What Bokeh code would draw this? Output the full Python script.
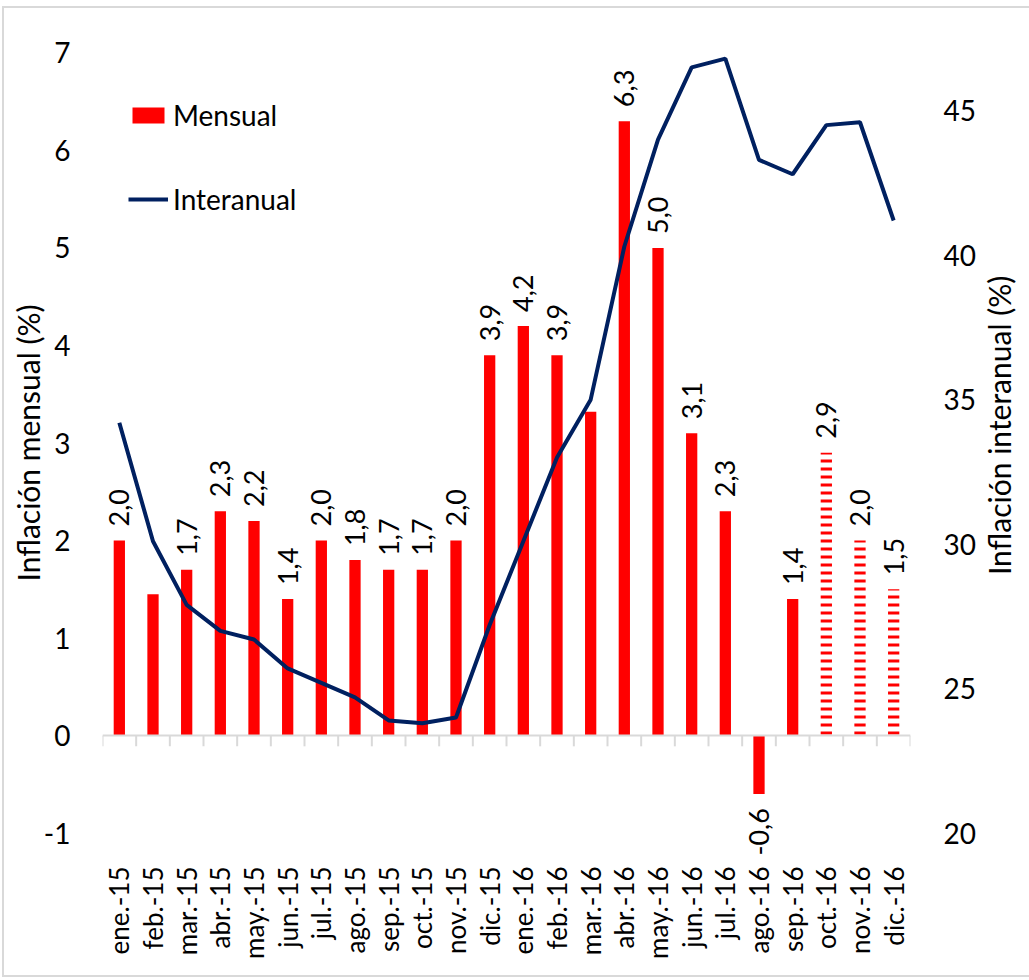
from math import pi

from bokeh.core.properties import value
from bokeh.embed import file_html
from bokeh.layouts import row
from bokeh.models import (ColumnDataSource, FactorRange, FixedTicker, Legend, LegendItem,
                          LinearAxis, Range1d, Span)
from bokeh.plotting import figure
from bokeh.resources import INLINE
from bokeh.transform import dodge

# Monthly categories
months = ["ene.-15", "feb.-15", "mar.-15", "abr.-15", "may.-15", "jun.-15",
          "jul.-15", "ago.-15", "sep.-15", "oct.-15", "nov.-15", "dic.-15",
          "ene.-16", "feb.-16", "mar.-16", "abr.-16", "may.-16", "jun.-16",
          "jul.-16", "ago.-16", "sep.-16", "oct.-16", "nov.-16", "dic.-16"]

# Monthly inflation (%), left axis
mensual = [2.0, 1.45, 1.7, 2.3, 2.2, 1.4, 2.0, 1.8, 1.7, 1.7, 2.0, 3.9,
           4.2, 3.9, 3.32, 6.3, 5.0, 3.1, 2.3, -0.6, 1.4, 2.9, 2.0, 1.5]

# Bars carrying a value label
labelled = [True, False, True, True, True, True, True, True, True, True, True, True,
            True, True, False, True, True, True, True, True, True, True, True, True]

# Last three months are estimates (hatched bars)
estimate = [False] * 21 + [True] * 3

# Year-on-year inflation (%), right axis
interanual = [34.2, 30.1, 27.9, 27.0, 26.7, 25.7, 25.2, 24.7, 23.9, 23.8, 24.0, 27.2,
              30.1, 33.0, 35.0, 40.3, 44.0, 46.5, 46.8, 43.3, 42.8, 44.5, 44.6, 41.2]

left_ticks = [-1, 0, 1, 2, 3, 4, 5, 6, 7]
right_ticks = [20, 25, 30, 35, 40, 45]

FONT = "Lato"
RED = "#FF0000"
NAVY = "#002060"
GREY = "#D9D9D9"
TXT = "#000000"

# Left scale -1..7 lines up with right scale 20..47; a little slack below and
# above keeps rotated value labels from being cut at the plot edge.
PAD = 0.25
L0, L1 = left_ticks[0], left_ticks[-1]
R0, R1 = 20, 47


def to_right(v):
    return R0 + (v - L0) * (R1 - R0) / (L1 - L0)


def fmt(v):
    return f"{v:.1f}".replace(".", ",")


p = figure(x_range=FactorRange(factors=months), y_range=Range1d(L0 - PAD, L1 + PAD),
           width=974, height=967, output_backend="svg", toolbar_location=None,
           min_border_left=98, min_border_right=67, min_border_top=20, min_border_bottom=118)
p.extra_y_ranges = {"right": Range1d(to_right(L0 - PAD), to_right(L1 + PAD))}
p.xgrid.visible = False
p.ygrid.visible = False
p.outline_line_color = None
p.background_fill_color = "white"
p.border_fill_color = "white"

# Category axis line at zero with separators between months
p.add_layout(Span(location=0, dimension="width", line_color=GREY, line_width=2))
p.segment(x0=dodge("month", -0.5, range=p.x_range), y0="y0",
          x1=dodge("month", -0.5, range=p.x_range), y1="y1",
          source=ColumnDataSource(dict(month=months, y0=[0] * len(months), y1=[-0.11] * len(months))),
          line_color=GREY, line_width=2)
p.segment(x0=dodge("month", 0.5, range=p.x_range), y0="y0",
          x1=dodge("month", 0.5, range=p.x_range), y1="y1",
          source=ColumnDataSource(dict(month=months[-1:], y0=[0], y1=[-0.11])),
          line_color=GREY, line_width=2)

# Bars
solid = ColumnDataSource(dict(month=[m for m, e in zip(months, estimate) if not e],
                              val=[v for v, e in zip(mensual, estimate) if not e]))
hatched = ColumnDataSource(dict(month=[m for m, e in zip(months, estimate) if e],
                                val=[v for v, e in zip(mensual, estimate) if e]))
bars = p.vbar(x="month", top="val", width=0.335, source=solid,
              fill_color=RED, line_color=None)
p.vbar(x="month", top="val", width=0.335, source=hatched,
       fill_color=None, fill_alpha=0, line_color=None,
       hatch_pattern="horizontal_line", hatch_color=RED, hatch_scale=8, hatch_weight=3)

# Year-on-year line
line_src = ColumnDataSource(dict(month=months, val=interanual))
line = p.line(x="month", y="val", source=line_src, y_range_name="right",
              line_color=NAVY, line_width=4)

# Value labels
pos = ColumnDataSource(dict(
    month=[m for m, v, l in zip(months, mensual, labelled) if l and v >= 0],
    val=[v for v, l in zip(mensual, labelled) if l and v >= 0],
    txt=[fmt(v) for v, l in zip(mensual, labelled) if l and v >= 0]))
neg = ColumnDataSource(dict(
    month=[m for m, v, l in zip(months, mensual, labelled) if l and v < 0],
    val=[v for v, l in zip(mensual, labelled) if l and v < 0],
    txt=[fmt(v) for v, l in zip(mensual, labelled) if l and v < 0]))
p.text(x="month", y="val", text="txt", source=pos, angle=pi / 2,
       text_align="left", text_baseline="middle", y_offset=-14,
       text_font=value(FONT), text_font_size="27px", text_color=TXT)
p.text(x="month", y="val", text="txt", source=neg, angle=pi / 2,
       text_align="right", text_baseline="middle", y_offset=14,
       text_font=value(FONT), text_font_size="27px", text_color=TXT)

# Left axis
ax = p.yaxis[0]
ax.ticker = FixedTicker(ticks=left_ticks)
ax.major_label_overrides = {t: str(t) for t in left_ticks}
ax.axis_line_color = None
ax.major_tick_line_color = None
ax.minor_tick_line_color = None
ax.major_tick_out = 0
ax.major_tick_in = 0
ax.major_label_standoff = 32
ax.major_label_text_font = FONT
ax.major_label_text_font_size = "28px"
ax.major_label_text_color = TXT
ax.axis_label = "Inflación mensual (%)"
ax.axis_label_text_font = FONT
ax.axis_label_text_font_size = "30px"
ax.axis_label_text_font_style = "normal"
ax.axis_label_text_color = TXT
ax.axis_label_standoff = -5

# Right axis
ra = LinearAxis(y_range_name="right", ticker=FixedTicker(ticks=right_ticks))
ra.axis_line_color = None
ra.major_tick_line_color = None
ra.minor_tick_line_color = None
ra.major_tick_out = 0
ra.major_tick_in = 0
ra.major_label_standoff = 33
ra.major_label_text_font = FONT
ra.major_label_text_font_size = "28px"
ra.major_label_text_color = TXT
p.add_layout(ra, "right")

# Category axis
xa = p.xaxis[0]
xa.axis_line_color = None
xa.major_tick_line_color = None
xa.minor_tick_line_color = None
xa.major_tick_out = 0
xa.major_tick_in = 0
xa.major_label_orientation = pi / 2
xa.major_label_standoff = 9
xa.major_label_text_font = FONT
xa.major_label_text_font_size = "26px"
xa.major_label_text_color = TXT

# Legend
legend = Legend(items=[LegendItem(label="Mensual", renderers=[bars]),
                       LegendItem(label="Interanual", renderers=[line])],
                location=(26, 641), glyph_width=40, glyph_height=20,
                label_text_font=FONT, label_text_font_size="28px", label_text_color=TXT,
                label_standoff=5, spacing=50, padding=0, margin=0,
                border_line_color=None, background_fill_alpha=0)
p.add_layout(legend)

# Right-hand title strip, text reading bottom to top
t = figure(width=51, height=967, x_range=Range1d(0, 51), y_range=Range1d(0, 967),
           output_backend="svg", toolbar_location=None, x_axis_type=None, y_axis_type=None,
           min_border=0)
t.outline_line_color = None
t.background_fill_color = "white"
t.border_fill_color = "white"
t.text(x=[20], y=[504], text=["Inflación interanual (%)"], angle=pi / 2,
       text_align="center", text_baseline="middle",
       text_font=value(FONT), text_font_size="30px", text_color=TXT)

layout = row(p, t)
layout.styles = {"margin-left": "2px", "margin-top": "6px",
                 "border-left": "2px solid #D9D9D9", "border-top": "2px solid #D9D9D9",
                 "border-bottom": "2px solid #D9D9D9"}

open("out.html", "w").write(file_html(layout, INLINE))
